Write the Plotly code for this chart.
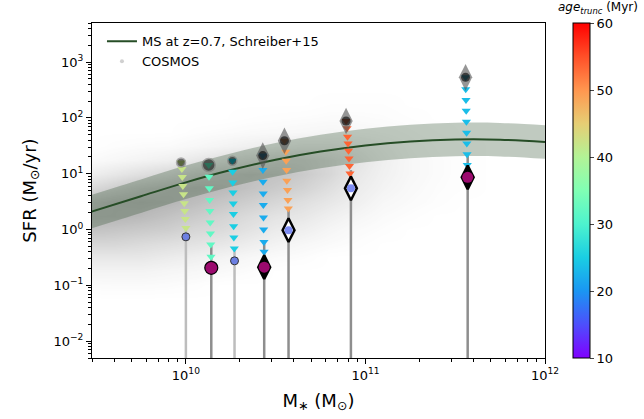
import numpy as np
import plotly.graph_objects as go

# main sequence (Schreiber+15, z=0.7)
ms_mass = [2.95e9, 5.62e9, 1e10, 1.78e10, 3.16e10, 5.62e10, 1e11, 1.78e11, 3.16e11, 5.62e11, 1e12]
ms_sfr = [2.07, 3.95, 7.0, 11.6, 17.8, 24.9, 32.1, 37.8, 40.9, 40.6, 37.0]
ms_hi = [4.13, 7.88, 14.0, 23.1, 35.5, 49.7, 64.0, 75.4, 81.6, 81.0, 73.8]
ms_lo = [1.04, 1.98, 3.51, 5.81, 8.92, 12.5, 16.1, 18.9, 20.5, 20.4, 18.5]

# COSMOS cloud, density read by eye on a grid (log M x log SFR)
cosmos_logm = [9.45, 9.6, 9.75, 9.9, 10.05, 10.2, 10.35, 10.5, 10.65, 10.8, 10.95, 11.1, 11.25, 11.4, 11.55, 11.7]
cosmos_logsfr = [-1.25, -1.0, -0.75, -0.5, -0.25, 0.0, 0.25, 0.5, 0.75, 1.0, 1.25, 1.5, 1.75, 2.0, 2.25, 2.5]
cosmos_density = [  # one row per mass column, low SFR -> high SFR
    [0, 0.05, 0.15, 0.3, 0.5, 0.75, 0.9, 0.8, 0.45, 0.2, 0.05, 0, 0, 0, 0, 0],
    [0, 0.06, 0.15, 0.3, 0.5, 0.7, 0.9, 0.9, 0.6, 0.3, 0.1, 0.03, 0, 0, 0, 0],
    [0, 0.06, 0.15, 0.3, 0.45, 0.65, 0.85, 0.95, 0.75, 0.4, 0.15, 0.05, 0, 0, 0, 0],
    [0, 0.05, 0.12, 0.25, 0.4, 0.6, 0.75, 0.9, 0.85, 0.5, 0.2, 0.06, 0, 0, 0, 0],
    [0, 0.03, 0.1, 0.2, 0.35, 0.5, 0.65, 0.8, 0.9, 0.65, 0.3, 0.1, 0.03, 0, 0, 0],
    [0, 0, 0.07, 0.15, 0.3, 0.45, 0.55, 0.7, 0.85, 0.75, 0.4, 0.15, 0.05, 0, 0, 0],
    [0, 0, 0.04, 0.1, 0.22, 0.35, 0.45, 0.6, 0.75, 0.8, 0.5, 0.2, 0.07, 0.02, 0, 0],
    [0, 0, 0, 0.06, 0.15, 0.25, 0.35, 0.5, 0.65, 0.75, 0.6, 0.25, 0.08, 0.03, 0, 0],
    [0, 0, 0, 0.04, 0.1, 0.2, 0.3, 0.4, 0.55, 0.65, 0.6, 0.3, 0.1, 0.04, 0, 0],
    [0, 0, 0, 0, 0.06, 0.12, 0.2, 0.3, 0.4, 0.5, 0.5, 0.3, 0.12, 0.05, 0.02, 0],
    [0, 0, 0, 0, 0.03, 0.06, 0.12, 0.2, 0.25, 0.3, 0.35, 0.25, 0.1, 0.05, 0.02, 0],
    [0, 0, 0, 0, 0, 0.03, 0.06, 0.1, 0.15, 0.18, 0.2, 0.16, 0.08, 0.04, 0.02, 0],
    [0, 0, 0, 0, 0, 0, 0.03, 0.06, 0.08, 0.1, 0.1, 0.08, 0.05, 0.02, 0, 0],
    [0, 0, 0, 0, 0, 0, 0, 0.03, 0.04, 0.05, 0.05, 0.04, 0.02, 0, 0, 0],
    [0, 0, 0, 0, 0, 0, 0, 0, 0.02, 0.02, 0.02, 0.02, 0, 0, 0, 0],
    [0] * 16,
]

# truncation tracks, masses in 1e10 Msun
trunc_age = [42, 32, 25, 22, 49, 53.5, 23.5]
track_mass = [
    [0.94, 0.95, 0.955, 0.962, 0.97, 0.98, 0.986, 0.993, 1.0],
    [1.34, 1.345, 1.35, 1.355, 1.36, 1.365, 1.37, 1.375, 1.38],
    [1.815, 1.82, 1.825, 1.83, 1.835, 1.84, 1.845, 1.85, 1.86],
    [2.68, 2.685, 2.69, 2.695, 2.70, 2.705, 2.71, 2.72, 2.725],
    [3.54, 3.60, 3.62, 3.64, 3.65, 3.68, 3.70, 3.72],
    [7.80, 7.90, 7.95, 8.00, 8.05, 8.10, 8.15, 8.20],
    [36.1, 36.2, 36.3, 36.4, 36.5, 36.6, 36.7, 36.8, 36.9],
]
track_sfr = [
    [15.9, 12.1, 8.7, 6.0, 4.3, 2.97, 2.14, 1.54, 1.06],
    [14.3, 8.8, 5.46, 3.37, 2.14, 1.34, 0.85, 0.54, 0.324],
    [17.0, 10.8, 6.98, 4.62, 2.94, 1.89, 1.15, 0.72, 0.458],
    [21.1, 11.6, 7.16, 4.44, 2.74, 1.65, 1.0, 0.60, 0.40],
    [38.9, 24.7, 17.0, 11.6, 7.47, 5.08, 3.37, 2.39],
    [87.8, 64.9, 45.8, 34.9, 25.7, 18.8, 13.7, 10.1],
    [532, 324, 208, 134, 85, 54, 34.9, 22.2, 14.3],
]
top_kind = ['circle', 'circle-big', 'circle', 'diamond', 'diamond', 'diamond', 'diamond']

# observed points at the bottom of each track
obs_mass = [1.0, 1.385, 1.866, 2.73, 3.73, 8.30, 37.1]
obs_sfr = [0.74, 0.206, 0.275, 0.212, 0.975, 5.46, 8.6]
obs_kind = ['blue', 'magenta', 'blue', 'black-magenta', 'white-blue', 'white-blue', 'black-magenta']
line_top = [1.06, 0.505, 0.43, 0.59, 2.42, 11.6, 23.4]

xtick_vals = [1e10, 1e11, 1e12]
xtick_text = ['10<sup>10</sup>', '10<sup>11</sup>', '10<sup>12</sup>']
ytick_vals = [1e-2, 1e-1, 1, 10, 100, 1000]
ytick_text = ['10<sup>\u22122</sup>', '10<sup>\u22121</sup>', '10<sup>0</sup>',
              '10<sup>1</sup>', '10<sup>2</sup>', '10<sup>3</sup>']

rainbow = [[0.0, '#8000ff'], [0.1, '#4d4ffc'], [0.2, '#1a96f3'], [0.3, '#1acee3'],
           [0.4, '#4df3ce'], [0.5, '#80ffb4'], [0.6, '#b3f396'], [0.7, '#e6ce74'],
           [0.8, '#ff964f'], [0.9, '#ff4f28'], [1.0, '#ff0000']]

BLUE = '#6c7fe2'
MAGENTA = '#9b0a6e'

fig = go.Figure()

# cloud on hidden linear (log-unit) axes underneath
fig.add_trace(go.Heatmap(x=cosmos_logm, y=cosmos_logsfr, z=np.array(cosmos_density).T,
                         zmin=0, zmax=1, zsmooth='best', showscale=False, hoverinfo='skip',
                         colorscale=[[0, 'rgba(100,100,100,0)'], [1, 'rgba(90,90,90,0.5)']],
                         xaxis='x', yaxis='y'))

ov = dict(xaxis='x2', yaxis='y2')

fig.add_trace(go.Scatter(x=ms_mass, y=ms_lo, mode='lines', line=dict(width=0, shape='spline'),
                         showlegend=False, hoverinfo='skip', **ov))
fig.add_trace(go.Scatter(x=ms_mass, y=ms_hi, mode='lines', line=dict(width=0, shape='spline'),
                         fill='tonexty', fillcolor='rgba(47,79,47,0.3)',
                         showlegend=False, hoverinfo='skip', **ov))
fig.add_trace(go.Scatter(x=ms_mass, y=ms_sfr, mode='lines', name='MS at z=0.7, Schreiber+15',
                         line=dict(color='#264d26', width=2, shape='spline'), **ov))
fig.add_trace(go.Scatter(x=[None], y=[None], mode='markers', name='COSMOS',
                         marker=dict(color='#d0d0d0', size=4), **ov))

for i in range(len(obs_mass)):
    lc = '#bdbdbd' if obs_kind[i] == 'blue' else '#8e8e8e'
    fig.add_trace(go.Scatter(x=[obs_mass[i] * 1e10, obs_mass[i] * 1e10], y=[line_top[i], 1e-3],
                             mode='lines', line=dict(color=lc, width=2.5),
                             showlegend=False, hoverinfo='skip', **ov))

for i in range(len(track_mass)):
    fig.add_trace(go.Scatter(
        x=[m * 1e10 for m in track_mass[i]], y=track_sfr[i], mode='markers', showlegend=False,
        marker=dict(symbol='triangle-down', size=8, color=[trunc_age[i]] * len(track_sfr[i]),
                    colorscale=rainbow, cmin=10, cmax=60, showscale=(i == 0),
                    colorbar=dict(x=1.062, xanchor='left', y=0.5, yanchor='middle', len=1.0,
                                  xpad=0, ypad=0, thickness=17, outlinecolor='black', outlinewidth=1,
                                  tickvals=[10, 20, 30, 40, 50, 60], ticks='outside', ticklen=4,
                                  tickfont=dict(size=13))),
        **ov))
    tx, ty = [track_mass[i][0] * 1e10], [track_sfr[i][0]]
    if top_kind[i] == 'diamond':
        fig.add_trace(go.Scatter(x=tx, y=ty, mode='markers', showlegend=False,
                                 marker=dict(symbol='diamond-tall', size=19, color='#555555', opacity=0.62,
                                             line=dict(width=0)), **ov))
        fig.add_trace(go.Scatter(x=tx, y=ty, mode='markers', showlegend=False,
                                 marker=dict(symbol='circle', size=9, color='black', opacity=0.6,
                                             line=dict(width=0)), **ov))
    else:
        sz = 13 if top_kind[i] == 'circle-big' else 9
        fig.add_trace(go.Scatter(x=tx, y=ty, mode='markers', showlegend=False,
                                 marker=dict(symbol='circle', size=sz, color='black', opacity=0.55,
                                             line=dict(width=1.5, color='#777777')), **ov))

for i in range(len(obs_mass)):
    ox, oy = [obs_mass[i] * 1e10], [obs_sfr[i]]
    k = obs_kind[i]
    if k == 'blue':
        fig.add_trace(go.Scatter(x=ox, y=oy, mode='markers', showlegend=False,
                                 marker=dict(symbol='circle', size=8, color=BLUE,
                                             line=dict(width=1, color='#333333')), **ov))
    elif k == 'magenta':
        fig.add_trace(go.Scatter(x=ox, y=oy, mode='markers', showlegend=False,
                                 marker=dict(symbol='circle', size=13, color=MAGENTA,
                                             line=dict(width=1.2, color='black')), **ov))
    else:
        fill = 'black' if k == 'black-magenta' else 'white'
        inner = MAGENTA if k == 'black-magenta' else '#7d8cf2'
        isz = 11 if k == 'black-magenta' else 8
        fig.add_trace(go.Scatter(x=ox, y=oy, mode='markers', showlegend=False,
                                 marker=dict(symbol='diamond-tall', size=17, color=fill,
                                             line=dict(width=2.5, color='black')), **ov))
        fig.add_trace(go.Scatter(x=ox, y=oy, mode='markers', showlegend=False,
                                 marker=dict(symbol='circle', size=isz, color=inner,
                                             line=dict(width=0)), **ov))

minor_x = [k * 10 ** e for e in range(9, 12) for k in range(2, 10) if 3e9 <= k * 10 ** e <= 1e12]
minor_y = [k * 10 ** e for e in range(-3, 4) for k in range(2, 10) if 5e-3 <= k * 10 ** e <= 5e3]

fig.update_layout(
    width=644, height=419,
    margin=dict(l=92, r=99, t=23, b=61, autoexpand=False),
    paper_bgcolor='white', plot_bgcolor='white',
    font=dict(family='DejaVu Sans', color='black', size=13),
    xaxis=dict(range=[np.log10(3e9), 12], visible=False, fixedrange=True),
    yaxis=dict(range=[np.log10(5e-3), np.log10(5e3)], visible=False, fixedrange=True),
    xaxis2=dict(type='log', range=[np.log10(3e9), 12], overlaying='x', anchor='y2', side='bottom',
                automargin=False,
                showgrid=False, zeroline=False, showline=True, mirror=True, linecolor='black', linewidth=1,
                ticks='outside', ticklen=5, tickcolor='black', tickmode='array',
                tickvals=xtick_vals, ticktext=xtick_text, tickfont=dict(size=13),
                minor=dict(ticks='outside', ticklen=3, tickcolor='black', tickvals=minor_x, showgrid=False),
                title=dict(text='M<sub>\u2217</sub> (M<sub>\u2299</sub>)', font=dict(size=18), standoff=12)),
    yaxis2=dict(type='log', range=[np.log10(5e-3), np.log10(5e3)], overlaying='y', anchor='x2', side='left',
                automargin=False,
                showgrid=False, zeroline=False, showline=True, mirror=True, linecolor='black', linewidth=1,
                ticks='outside', ticklen=5, tickcolor='black', tickmode='array',
                tickvals=ytick_vals, ticktext=ytick_text, tickfont=dict(size=13),
                minor=dict(ticks='outside', ticklen=3, tickcolor='black', tickvals=minor_y, showgrid=False),
                title=dict(text='SFR (M<sub>\u2299</sub>/yr)', font=dict(size=18), standoff=12)),
    legend=dict(x=0.022, y=0.99, xanchor='left', yanchor='top', bgcolor='rgba(255,255,255,0)',
                font=dict(size=13), tracegroupgap=0, traceorder='normal'),
    showlegend=True,
    annotations=[dict(text='<i>age</i><sub><i>trunc</i></sub> (Myr)', xref='paper', yref='paper',
                      x=1.21, y=1.045, xanchor='right', yanchor='middle', showarrow=False,
                      font=dict(size=12))],
)

# drop the browser's default 8px page margin so the figure sits at (0, 0)
fig.write_html("out.html", config={'displayModeBar': False},
               post_script="document.body.style.margin = '0';")
